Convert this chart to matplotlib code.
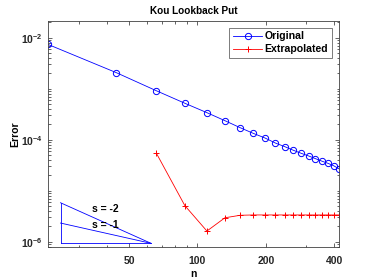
import matplotlib
matplotlib.use("Agg")
import matplotlib.pyplot as plt
from matplotlib.ticker import FixedLocator, NullFormatter, FixedFormatter

plt.rcParams['font.family'] = ['Liberation Sans', 'DejaVu Sans']
plt.rcParams['font.weight'] = 'bold'
plt.rcParams['mathtext.fontset'] = 'custom'
plt.rcParams['mathtext.rm'] = 'Liberation Sans:bold'
plt.rcParams['mathtext.it'] = 'Liberation Sans:bold'
plt.rcParams['mathtext.bf'] = 'Liberation Sans:bold'

n_orig = [22, 44, 66, 88, 110, 132, 154, 176, 198, 220, 242, 264, 286, 308, 330, 352, 374, 396, 418]
err_orig = [7.4e-3, 2.06e-3, 9.1e-4, 5.18e-4, 3.39e-4, 2.36e-4, 1.72e-4, 1.33e-4, 1.08e-4,
            8.6e-5, 7.3e-5, 6.2e-5, 5.4e-5, 4.8e-5, 4.25e-5, 3.8e-5, 3.45e-5, 3.1e-5, 2.7e-5]
n_extr = [66, 88, 110, 132, 154, 176, 198, 220, 242, 264, 286, 308, 330, 352, 374, 396, 418]
err_extr = [5.4e-5, 5.1e-6, 1.62e-6, 2.95e-6, 3.3e-6, 3.35e-6, 3.35e-6, 3.35e-6, 3.35e-6,
            3.35e-6, 3.35e-6, 3.35e-6, 3.35e-6, 3.35e-6, 3.35e-6, 3.35e-6, 3.35e-6]

tri_n = [25, 62.5]
tri_y0 = 9.3e-7
slopes = [-2, -1]
slope_labels = ['s = -2', 's = -1']
slope_label_y = [4.4e-6, 2.15e-6]
slope_label_n = 34.5

xticks = [50, 100, 200, 400]
xminor = [30, 40, 60, 70, 80, 90, 300]

fig = plt.figure(figsize=(3.74, 2.8), dpi=100)
ax = fig.add_axes([0.128, 0.117, 0.778, 0.809])
ax.set_xscale('log')
ax.set_yscale('log')

fs = 7.5
ax.plot(n_orig, err_orig, '-o', color='blue', lw=0.6, markersize=4.5,
        markerfacecolor='none', markeredgewidth=0.7, label='Original')
ax.plot(n_extr, err_extr, '-+', color='red', lw=0.6, markersize=5,
        markeredgewidth=0.7, label='Extrapolated')

# slope triangle
r = tri_n[1] / tri_n[0]
ax.plot([tri_n[0], tri_n[0]], [tri_y0, tri_y0 * r ** 2], color='blue', lw=0.6)
ax.plot([tri_n[0], tri_n[1]], [tri_y0, tri_y0], color='blue', lw=0.6)
for s in slopes:
    ax.plot([tri_n[0], tri_n[1]], [tri_y0 * r ** (-s), tri_y0], color='blue', lw=0.6)
for lab, yy in zip(slope_labels, slope_label_y):
    ax.text(slope_label_n, yy, lab, fontsize=fs, fontweight='bold', va='center', ha='left')

ax.set_xlim(22, 418)
ax.set_ylim(7.8e-7, 2.15e-2)

ax.xaxis.set_major_locator(FixedLocator(xticks))
ax.xaxis.set_major_formatter(FixedFormatter([str(v) for v in xticks]))
ax.xaxis.set_minor_locator(FixedLocator(xminor))
ax.xaxis.set_minor_formatter(NullFormatter())

ax.yaxis.set_major_locator(FixedLocator([1e-6, 1e-4, 1e-2]))
yminor = []
for e in range(-7, -1):
    for m in range(1, 10):
        v = m * 10.0 ** e
        if m == 1 and e in (-6, -4, -2):
            continue
        yminor.append(v)
ax.yaxis.set_minor_locator(FixedLocator(yminor))
ax.yaxis.set_minor_formatter(NullFormatter())

gray = '#262626'
for sp in ax.spines.values():
    sp.set_color('#404040')
    sp.set_linewidth(0.6)
ax.tick_params(which='both', direction='in', top=True, right=True, colors=gray,
               labelsize=fs, width=0.5)
ax.tick_params(which='major', length=3)
ax.tick_params(which='minor', length=1.8)
ax.tick_params(axis='x', which='major', pad=6)
for lab in ax.get_xticklabels() + ax.get_yticklabels():
    lab.set_fontweight('bold')

ax.set_xlabel('n', fontsize=fs, fontweight='bold', labelpad=2.5)
ax.set_ylabel('Error', fontsize=fs, fontweight='bold', labelpad=0.5)
ax.set_title('Kou Lookback Put', fontsize=7.2, fontweight='bold', pad=4.5)

leg = ax.legend(loc='upper right', fontsize=7.6, frameon=True, fancybox=False,
                edgecolor='#404040', borderpad=0.35, handlelength=2.75,
                handletextpad=0.25, labelspacing=0.3, borderaxespad=0.65)
leg.get_frame().set_linewidth(0.6)
for t in leg.get_texts():
    t.set_fontweight('bold')

fig.savefig('out.png', dpi=100)
